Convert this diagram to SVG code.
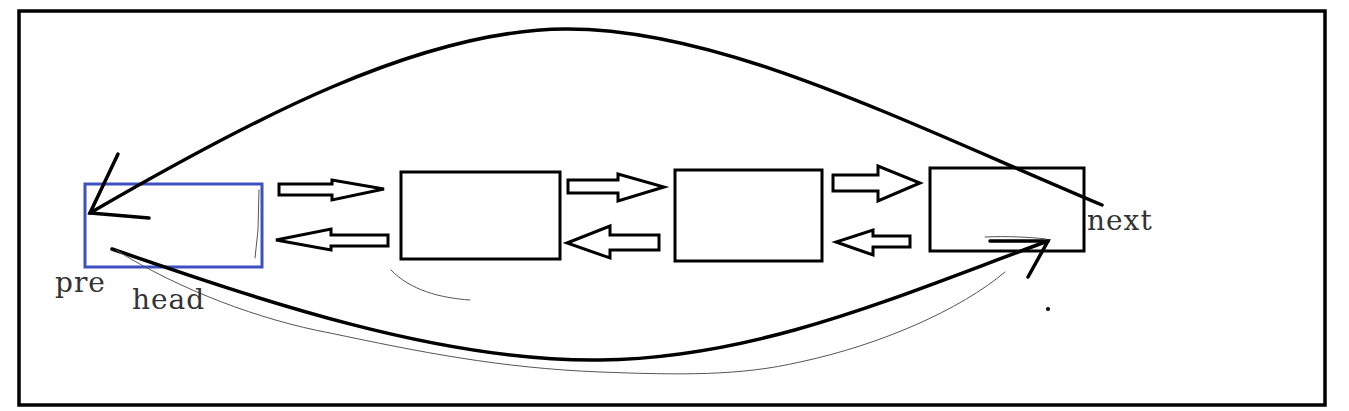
<svg xmlns="http://www.w3.org/2000/svg" width="1349" height="411" viewBox="0 0 1349 411">
<style>
.box{fill:#fff;stroke:#000;stroke-width:3}
.blk{fill:#fff;stroke:#000;stroke-width:3;stroke-linejoin:miter}
.thick{fill:none;stroke:#000;stroke-width:3.5;stroke-linecap:round}
.thin{fill:none;stroke:#555;stroke-width:1;stroke-linecap:round}
.lbl{font-family:"DejaVu Serif","Liberation Serif",serif;font-size:28px;letter-spacing:1px;fill:#333}
</style>
<rect x="0" y="0" width="1349" height="411" fill="#fff"/>
<rect x="19" y="11" width="1306" height="394" fill="none" stroke="#000" stroke-width="3.5"/>
<g id="head">
<rect x="85" y="184" width="177" height="83" fill="#fff" stroke="#3e4fc0" stroke-width="3"/>
<path class="thin" d="M259,190 L258,230 L255,258"/>
</g>
<g id="node2"><rect class="box" x="401" y="172" width="159" height="87"/></g>
<g id="node3"><rect class="box" x="675" y="170" width="147" height="91"/></g>
<g id="node4"><rect class="box" x="930" y="168" width="154" height="83"/></g>
<g id="connectors">
<path class="blk" d="M279,184 L332,184 L332,180 L384,189 L332,200 L332,195 L279,195 Z"/>
<path class="blk" d="M388,235 L331,235 L331,229 L276,240 L331,250 L331,246 L388,246 Z"/>
<path class="blk" d="M568,180 L618,180 L618,174 L664,187 L618,201 L618,193 L568,193 Z"/>
<path class="blk" d="M659,235 L610,235 L610,226 L567,243 L610,258 L610,250 L659,250 Z"/>
<path class="blk" d="M833,175 L878,175 L878,166 L920,183 L878,201 L878,191 L833,191 Z"/>
<path class="blk" d="M910,236 L873,236 L873,230 L836,242 L873,255 L873,247 L910,247 Z"/>
<path class="thick" d="M90,213 C250,120 420,30 565,29 C720,28 900,120 1102,205"/>
<path class="thick" d="M118,154 L90,213 L149,218"/>
<path class="thick" d="M112,249 C260,300 440,362 600,360 C760,358 900,295 1048,241"/>
<path class="thick" d="M990,241 L1048,241 L1028,277"/>
<path class="thin" d="M985,237 C1005,236 1030,237 1046,239"/>
<path class="thin" d="M116,250 C180,290 260,320 330,333 C420,352 500,368 600,372 C680,375 740,376 800,362 C880,345 960,310 1005,272"/>
<path class="thin" d="M391,270 C410,290 440,298 470,300"/>
<circle cx="1048" cy="309" r="2" fill="#000"/>
</g>
<text class="lbl" x="55" y="292">pre</text>
<text class="lbl" x="132" y="309">head</text>
<text class="lbl" x="1087" y="230">next</text>
</svg>
